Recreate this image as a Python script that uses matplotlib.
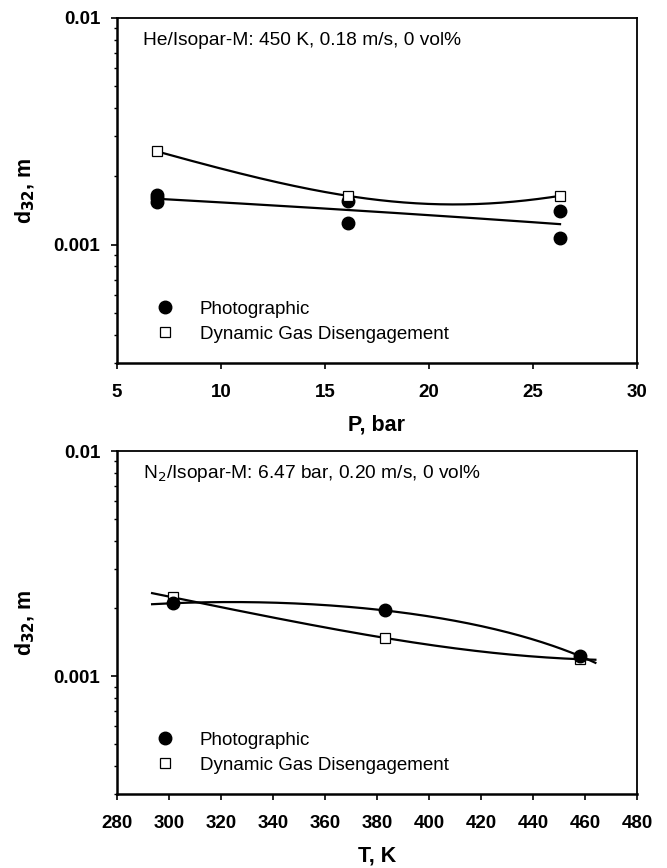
import numpy as np
import matplotlib
matplotlib.use("Agg")
import matplotlib.pyplot as plt
from matplotlib.lines import Line2D
from matplotlib.ticker import FixedLocator, NullFormatter, FixedFormatter

plt.rcParams["font.family"] = ["Liberation Sans", "DejaVu Sans"]

# He/Isopar-M, pressure series
P_PHOTO = [6.9, 6.9, 6.9, 16.1, 16.1, 26.3, 26.3]
D_PHOTO_P = [0.00166, 0.00160, 0.00154, 0.00155, 0.00125, 0.00141, 0.00107]
P_DGD = [6.9, 16.1, 26.3]
D_DGD_P = [0.00258, 0.00164, 0.00164]

# N2/Isopar-M, temperature series
T_PHOTO = [301.5, 383.0, 458.0]
D_PHOTO_T = [0.00211, 0.00196, 0.00123]
T_DGD = [301.5, 383.0, 458.0]
D_DGD_T = [0.00224, 0.00148, 0.00119]

P_TICKS = [5, 10, 15, 20, 25, 30]
T_TICKS = [280, 300, 320, 340, 360, 380, 400, 420, 440, 460, 480]
T_FIT_RANGE = (293.5, 464.0)

LEGEND_LABELS = ["Photographic", "Dynamic Gas Disengagement"]


def fit_curve(x, y, deg, x0, x1):
    coef = np.polyfit(x, y, deg)
    xs = np.linspace(x0, x1, 200)
    return xs, np.polyval(coef, xs)


def style_axis(ax, xticks, xlabel, note):
    ax.set_yscale("log")
    ax.set_ylim(0.0003, 0.01)
    ax.set_xlim(xticks[0], xticks[-1])
    ax.set_xticks(xticks)
    ax.set_xticklabels([str(t) for t in xticks])
    ax.yaxis.set_major_locator(FixedLocator([0.001, 0.01]))
    ax.yaxis.set_major_formatter(FixedFormatter(["0.001", "0.01"]))
    minors = [k * 1e-4 for k in range(3, 10)] + [k * 1e-3 for k in range(2, 10)]
    ax.yaxis.set_minor_locator(FixedLocator(minors))
    ax.yaxis.set_minor_formatter(NullFormatter())
    ax.tick_params(axis="both", which="major", direction="out", length=4,
                   width=1.2, labelsize=13.5)
    ax.tick_params(axis="x", which="major", pad=11)
    ax.tick_params(axis="y", which="major", pad=8)
    ax.tick_params(axis="y", which="minor", direction="out", length=2.5, width=1.0)
    ax.tick_params(axis="x", which="minor", bottom=False)
    for lab in ax.get_xticklabels() + ax.get_yticklabels():
        lab.set_fontweight("bold")
    for side in ["left", "bottom"]:
        ax.spines[side].set_linewidth(1.8)
    for side in ["top", "right"]:
        ax.spines[side].set_linewidth(1.3)
    ax.set_xlabel(xlabel, fontsize=15.5, fontweight="bold", labelpad=10)
    ax.set_ylabel(r"d$_{\mathbf{32}}$, m", fontsize=15.5, fontweight="bold", labelpad=12)
    ax.text(0.05, 0.935, note, transform=ax.transAxes, fontsize=13.8,
            va="center", ha="left")

    handles = [
        Line2D([], [], linestyle="none", marker="o", markersize=9,
               markerfacecolor="black", markeredgecolor="black"),
        Line2D([], [], linestyle="none", marker="s", markersize=7.5,
               markerfacecolor="white", markeredgecolor="black", markeredgewidth=0.9),
    ]
    ax.legend(handles, LEGEND_LABELS, loc="lower left", bbox_to_anchor=(0.037, 0.01),
              frameon=False, fontsize=13.5, handletextpad=1.2, labelspacing=0.4,
              handlelength=1.3)


fig = plt.figure(figsize=(6.67, 8.68), dpi=100)
ax1 = fig.add_axes([0.1754, 0.5818, 0.7796, 0.3975])
ax2 = fig.add_axes([0.1754, 0.0853, 0.7796, 0.395])

# Pressure panel: straight regression for photos, quadratic for DGD
xs, ys = fit_curve(P_PHOTO, D_PHOTO_P, 1, min(P_PHOTO), max(P_PHOTO))
ax1.plot(xs, ys, color="black", lw=1.6, zorder=2)
xs, ys = fit_curve(P_DGD, D_DGD_P, 2, min(P_DGD), max(P_DGD))
ax1.plot(xs, ys, color="black", lw=1.6, zorder=2)
ax1.plot(P_PHOTO, D_PHOTO_P, "o", color="black", markersize=9, zorder=3)
ax1.plot(P_DGD, D_DGD_P, "s", markerfacecolor="white", markeredgecolor="black",
         markeredgewidth=0.9, markersize=7.5, zorder=3)
style_axis(ax1, P_TICKS, "P, bar", "He/Isopar-M: 450 K, 0.18 m/s, 0 vol%")

# Temperature panel: quadratic fits for both methods
xs, ys = fit_curve(T_PHOTO, D_PHOTO_T, 2, *T_FIT_RANGE)
ax2.plot(xs, ys, color="black", lw=1.6, zorder=2)
xs, ys = fit_curve(T_DGD, D_DGD_T, 2, *T_FIT_RANGE)
ax2.plot(xs, ys, color="black", lw=1.6, zorder=2)
ax2.plot(T_DGD, D_DGD_T, "s", markerfacecolor="white", markeredgecolor="black",
         markeredgewidth=0.9, markersize=7.5, zorder=3)
ax2.plot(T_PHOTO, D_PHOTO_T, "o", color="black", markersize=9, zorder=4)
style_axis(ax2, T_TICKS, "T, K", r"N$_2$/Isopar-M: 6.47 bar, 0.20 m/s, 0 vol%")

fig.savefig("out.png", dpi=100)
